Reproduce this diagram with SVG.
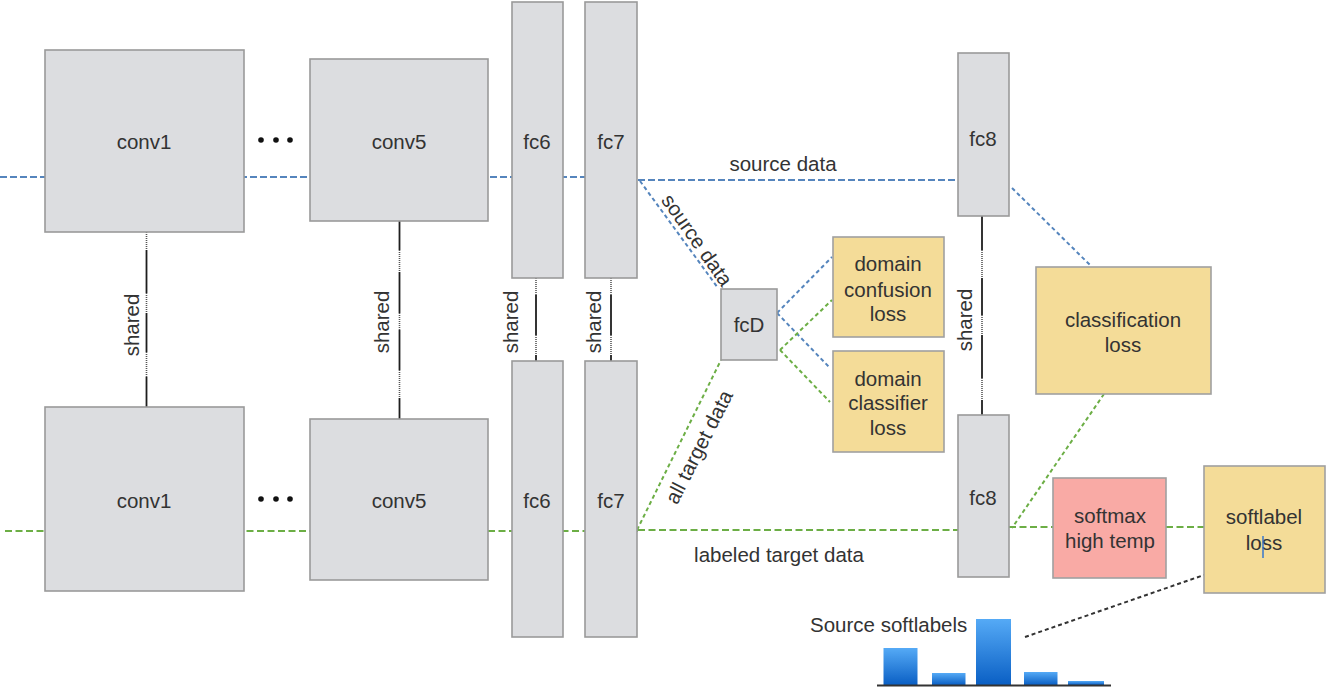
<svg xmlns="http://www.w3.org/2000/svg" width="1336" height="693" viewBox="0 0 1336 693">
  <defs>
    <linearGradient id="barGrad" x1="0" y1="0" x2="0" y2="1">
      <stop offset="0" stop-color="#55aaf6"/>
      <stop offset="1" stop-color="#0a5fc4"/>
    </linearGradient>
    <style>
      text { font-family: "Liberation Sans", Arial, sans-serif; font-size: 20.5px; fill: #333; text-anchor: middle; }
      .layer { fill: #dcdde0; stroke: #9a9a9a; stroke-width: 1.6; }
      .loss { fill: #f4dc98; stroke: #a0a0a0; stroke-width: 1.6; }
      .soft { fill: #f9aaa5; stroke: #a0a0a0; stroke-width: 1.6; }
      .src { stroke: #5585bd; stroke-width: 2; fill: none; stroke-dasharray: 7 3; }
      .tgt { stroke: #6cae45; stroke-width: 2; fill: none; stroke-dasharray: 7 3.5; }
      .srcd { stroke: #5585bd; stroke-width: 2; fill: none; stroke-dasharray: 4 3; }
      .tgtd { stroke: #6cae45; stroke-width: 2; fill: none; stroke-dasharray: 4 3; }
      .blk { stroke: #333; stroke-width: 2; fill: none; stroke-dasharray: 4 3; }
      .solid { stroke: #1e1e1e; stroke-width: 1.8; }
      .dot { stroke: #555; stroke-width: 1.6; stroke-dasharray: 1 1; }
    </style>
  </defs>

  <!-- data-flow connectors (drawn underneath the layer boxes) -->
  <g id="connectors">
    <!-- source stream -->
    <line class="src" x1="0" y1="177" x2="638" y2="177"/>
    <line class="src" x1="638" y1="180" x2="958" y2="180"/>
    <line class="srcd" x1="640" y1="181" x2="718" y2="288"/>
    <line class="srcd" x1="1012" y1="188" x2="1090" y2="265"/>
    <line class="srcd" x1="777" y1="313" x2="832" y2="257"/>
    <line class="srcd" x1="777" y1="313" x2="830" y2="368"/>
    <!-- target stream -->
    <line class="tgt" x1="5" y1="531" x2="638" y2="531"/>
    <line class="tgt" x1="638" y1="530" x2="958" y2="530"/>
    <line class="tgt" x1="1009" y1="527" x2="1053" y2="527"/>
    <line class="tgt" x1="1166" y1="527" x2="1204" y2="527"/>
    <line class="tgtd" x1="637" y1="530" x2="721" y2="360"/>
    <line class="tgtd" x1="1104" y1="394" x2="1012" y2="528"/>
    <line class="tgtd" x1="780" y1="350" x2="832" y2="300"/>
    <line class="tgtd" x1="780" y1="350" x2="830" y2="402"/>
    <!-- soft labels to loss -->
    <line class="blk" x1="1025" y1="637" x2="1204" y2="575"/>

    <!-- weight-sharing ties -->
    <g id="share-conv1">
      <line class="dot" x1="146.5" y1="232" x2="146.5" y2="250"/>
      <line class="solid" x1="146.5" y1="250" x2="146.5" y2="293"/>
      <line class="dot" x1="146.5" y1="293" x2="146.5" y2="313"/>
      <line class="solid" x1="146.5" y1="313" x2="146.5" y2="352"/>
      <line class="dot" x1="146.5" y1="352" x2="146.5" y2="377"/>
      <line class="solid" x1="146.5" y1="377" x2="146.5" y2="407"/>
    </g>
    <g id="share-conv5">
      <line class="solid" x1="399.5" y1="221" x2="399.5" y2="250"/>
      <line class="dot" x1="399.5" y1="250" x2="399.5" y2="272"/>
      <line class="solid" x1="399.5" y1="272" x2="399.5" y2="313"/>
      <line class="dot" x1="399.5" y1="313" x2="399.5" y2="330"/>
      <line class="solid" x1="399.5" y1="330" x2="399.5" y2="370"/>
      <line class="dot" x1="399.5" y1="370" x2="399.5" y2="398"/>
      <line class="solid" x1="399.5" y1="398" x2="399.5" y2="419"/>
    </g>
    <g id="share-fc6">
      <line class="dot" x1="536" y1="278" x2="536" y2="295"/>
      <line class="solid" x1="536" y1="295" x2="536" y2="335"/>
      <line class="dot" x1="536" y1="335" x2="536" y2="355"/>
      <line class="solid" x1="536" y1="355" x2="536" y2="362"/>
    </g>
    <g id="share-fc7">
      <line class="dot" x1="611" y1="278" x2="611" y2="295"/>
      <line class="solid" x1="611" y1="295" x2="611" y2="335"/>
      <line class="dot" x1="611" y1="335" x2="611" y2="355"/>
      <line class="solid" x1="611" y1="355" x2="611" y2="362"/>
    </g>
    <g id="share-fc8">
      <line class="solid" x1="982" y1="216" x2="982" y2="250"/>
      <line class="dot" x1="982" y1="250" x2="982" y2="278"/>
      <line class="solid" x1="982" y1="278" x2="982" y2="315"/>
      <line class="dot" x1="982" y1="315" x2="982" y2="335"/>
      <line class="solid" x1="982" y1="335" x2="982" y2="378"/>
      <line class="dot" x1="982" y1="378" x2="982" y2="400"/>
      <line class="solid" x1="982" y1="400" x2="982" y2="415"/>
    </g>
  </g>

  <!-- connector labels -->
  <g id="labels">
    <text x="783" y="171">source data</text>
    <text x="779" y="562">labeled target data</text>
    <text transform="translate(697,240) rotate(55)" y="7">source data</text>
    <text transform="translate(699,447) rotate(-63)" y="7">all target data</text>
    <text transform="translate(132,325) rotate(-90)" y="7">shared</text>
    <text transform="translate(382,322) rotate(-90)" y="7">shared</text>
    <text transform="translate(511,322) rotate(-90)" y="7">shared</text>
    <text transform="translate(594,322) rotate(-90)" y="7">shared</text>
    <text transform="translate(965,320) rotate(-90)" y="7">shared</text>
  </g>

  <!-- ellipses between conv layers -->
  <g id="ellipsis-top" fill="#111">
    <circle cx="261" cy="140" r="2.8"/>
    <circle cx="276" cy="140" r="2.8"/>
    <circle cx="290" cy="140" r="2.8"/>
  </g>
  <g id="ellipsis-bottom" fill="#111">
    <circle cx="261" cy="499" r="2.8"/>
    <circle cx="276" cy="499" r="2.8"/>
    <circle cx="290" cy="499" r="2.8"/>
  </g>

  <!-- source network -->
  <g id="conv1-src"><rect class="layer" x="45" y="50" width="199" height="182"/><text x="144" y="149">conv1</text></g>
  <g id="conv5-src"><rect class="layer" x="310" y="59" width="178" height="162"/><text x="399" y="149">conv5</text></g>
  <g id="fc6-src"><rect class="layer" x="512" y="2" width="51" height="276"/><text x="537" y="149">fc6</text></g>
  <g id="fc7-src"><rect class="layer" x="585" y="2" width="52" height="276"/><text x="611" y="149">fc7</text></g>
  <g id="fc8-src"><rect class="layer" x="958" y="53" width="51" height="163"/><text x="983" y="146">fc8</text></g>

  <!-- target network -->
  <g id="conv1-tgt"><rect class="layer" x="45" y="407" width="199" height="184"/><text x="144" y="508">conv1</text></g>
  <g id="conv5-tgt"><rect class="layer" x="310" y="419" width="178" height="161"/><text x="399" y="508">conv5</text></g>
  <g id="fc6-tgt"><rect class="layer" x="512" y="361" width="51" height="276"/><text x="537" y="508">fc6</text></g>
  <g id="fc7-tgt"><rect class="layer" x="585" y="361" width="52" height="276"/><text x="611" y="508">fc7</text></g>
  <g id="fc8-tgt"><rect class="layer" x="958" y="415" width="51" height="162"/><text x="983" y="505">fc8</text></g>

  <!-- domain head -->
  <g id="fcD"><rect class="layer" x="721" y="289" width="56" height="71"/><text x="749" y="332">fcD</text></g>

  <!-- losses -->
  <g id="domain-confusion-loss">
    <rect class="loss" x="833" y="237" width="111" height="100"/>
    <text x="888" y="271">domain</text>
    <text x="888" y="297">confusion</text>
    <text x="888" y="321">loss</text>
  </g>
  <g id="domain-classifier-loss">
    <rect class="loss" x="833" y="351" width="111" height="101"/>
    <text x="888" y="386">domain</text>
    <text x="888" y="410">classifier</text>
    <text x="888" y="435">loss</text>
  </g>
  <g id="classification-loss">
    <rect class="loss" x="1036" y="267" width="175" height="127"/>
    <text x="1123" y="327">classification</text>
    <text x="1123" y="352">loss</text>
  </g>
  <g id="softmax">
    <rect class="soft" x="1053" y="478" width="113" height="100"/>
    <text x="1110" y="523">softmax</text>
    <text x="1110" y="548">high temp</text>
  </g>
  <g id="softlabel-loss">
    <rect class="loss" x="1204" y="466" width="121" height="127"/>
    <text x="1264" y="524">softlabel</text>
    <text x="1264" y="550">loss</text>
    <line x1="1263" y1="536" x2="1263" y2="558" stroke="#2a6fd0" stroke-width="1.4"/>
  </g>

  <!-- source soft-label histogram -->
  <g id="source-softlabels">
    <text x="810" y="632" style="text-anchor:start">Source softlabels</text>
    <rect x="883.5" y="648" width="34" height="37" fill="url(#barGrad)"/>
    <rect x="932" y="673" width="33.5" height="12" fill="url(#barGrad)"/>
    <rect x="976" y="619" width="35" height="66" fill="url(#barGrad)"/>
    <rect x="1024" y="672" width="33.5" height="13" fill="url(#barGrad)"/>
    <rect x="1068" y="681" width="36" height="4" fill="url(#barGrad)"/>
    <line x1="877" y1="685.5" x2="1111" y2="685.5" stroke="#333" stroke-width="2"/>
  </g>
</svg>
